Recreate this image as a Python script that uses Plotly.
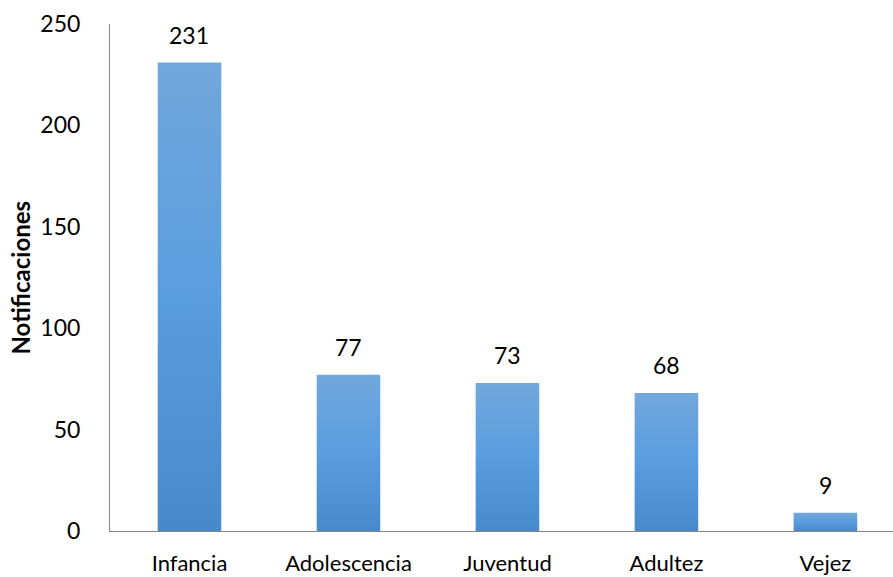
import plotly.graph_objects as go

# Notifications by life stage
categories = ["Infancia", "Adolescencia", "Juventud", "Adultez", "Vejez"]
notificaciones = [231, 77, 73, 68, 9]
y_ticks = [0, 50, 100, 150, 200, 250]

FONT = "Lato, 'Open Sans', sans-serif"
BAR_WIDTH = 0.4
GRADIENT = [[0.0, "#4889ca"], [0.5, "#5a9ddf"], [1.0, "#72a8dc"]]

fig = go.Figure()

# Each bar is a filled rectangle so it can carry its own vertical gradient
for i, (cat, val) in enumerate(zip(categories, notificaciones)):
    x0, x1 = i - BAR_WIDTH / 2, i + BAR_WIDTH / 2
    fig.add_trace(go.Scatter(
        x=[x0, x1, x1, x0, x0],
        y=[0, 0, val, val, 0],
        mode="lines",
        line=dict(width=0),
        fill="toself",
        fillgradient=dict(type="vertical", colorscale=GRADIENT, start=0, stop=val),
        name=cat,
        hoverinfo="skip",
        showlegend=False,
    ))

# Value labels above each bar
value_labels = [
    dict(
        x=i, y=val, xref="x", yref="y",
        text=str(val),
        showarrow=False,
        xanchor="center", yanchor="bottom",
        yshift=12,
        font=dict(family=FONT, size=23, color="#000000"),
    )
    for i, val in enumerate(notificaciones)
]

axis_title = dict(
    text="<b>Notificaciones</b>",
    textangle=-90,
    xref="paper", yref="paper",
    x=(20 - 110) / 783, y=0.5,
    xanchor="center", yanchor="middle",
    showarrow=False,
    font=dict(family=FONT, size=24, color="#000000"),
)

fig.update_layout(
    width=893,
    height=577,
    margin=dict(l=110, r=0, t=24, b=46),
    paper_bgcolor="white",
    plot_bgcolor="white",
    font=dict(family=FONT, size=23, color="#000000"),
    xaxis=dict(
        range=[-0.5, 4.425],
        tickmode="array",
        tickvals=list(range(len(categories))),
        ticktext=categories,
        showgrid=False,
        zeroline=False,
        showline=True,
        linecolor="#868686",
        linewidth=1,
        ticks="",
        automargin=False,
        ticklabelstandoff=13,
        tickfont=dict(family=FONT, size=22),
    ),
    yaxis=dict(
        range=[0, 250],
        tickmode="array",
        tickvals=y_ticks,
        showgrid=False,
        zeroline=False,
        showline=True,
        linecolor="#868686",
        linewidth=1,
        ticks="",
        automargin=False,
        ticklabelstandoff=24,
        tickfont=dict(family=FONT, size=23),
    ),
    annotations=value_labels + [axis_title],
)

fig.write_html("out.html")
